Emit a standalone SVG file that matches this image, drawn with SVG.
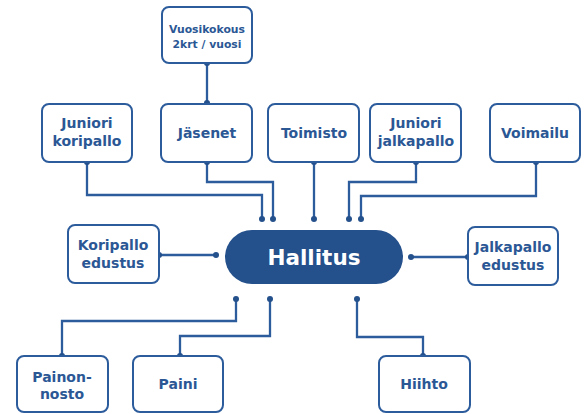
<svg xmlns="http://www.w3.org/2000/svg" width="588" height="414" viewBox="0 0 588 414">
<defs>
<style>
.box{fill:#fff;stroke:#2d5c9c;stroke-width:2}
.t{font-family:"DejaVu Sans",sans-serif;font-weight:bold;font-size:14px;fill:#2b5795;text-anchor:middle}
.s{font-size:10.8px}
.c{fill:none;stroke:#2d5c9c;stroke-width:2.3}
.d{fill:#24508c}
</style>
</defs>
<rect width="588" height="414" fill="#fff"/>
<g id="connectors">
<path class="c" d="M207 63V103"/>
<path class="c" d="M87 162V195H262V219"/>
<path class="c" d="M207 162V182H273V219"/>
<path class="c" d="M314 162V219"/>
<path class="c" d="M416 162V182H349V219"/>
<path class="c" d="M536 162V196H361V219"/>
<path class="c" d="M159 255H216"/>
<path class="c" d="M411 257H468"/>
<path class="c" d="M236 299V321H62V356"/>
<path class="c" d="M270 299V336H180V356"/>
<path class="c" d="M357 299V337H423V356"/>
<g class="d">
<circle cx="207" cy="63" r="3"/><circle cx="207" cy="103" r="3"/>
<circle cx="87" cy="162" r="3"/><circle cx="262" cy="219" r="3"/>
<circle cx="207" cy="162" r="3"/><circle cx="273" cy="219" r="3"/>
<circle cx="314" cy="162" r="3"/><circle cx="314" cy="219" r="3"/>
<circle cx="416" cy="162" r="3"/><circle cx="349" cy="219" r="3"/>
<circle cx="536" cy="162" r="3"/><circle cx="361" cy="219" r="3"/>
<circle cx="159" cy="255" r="3"/><circle cx="216" cy="255" r="3"/>
<circle cx="411" cy="257" r="3"/><circle cx="468" cy="257" r="3"/>
<circle cx="236" cy="299" r="3"/><circle cx="62" cy="356" r="3"/>
<circle cx="270" cy="299" r="3"/><circle cx="180" cy="356" r="3"/>
<circle cx="357" cy="299" r="3"/><circle cx="423" cy="356" r="3"/>
</g>
</g>
<g id="vuosikokous"><rect class="box" x="162" y="7" width="90" height="56" rx="7"/><text class="t s" x="207" y="33">Vuosikokous</text><text class="t s" x="207" y="48">2krt / vuosi</text></g>
<g id="juniori-koripallo"><rect class="box" x="42" y="104" width="90" height="58" rx="7"/><text class="t" x="87" y="128">Juniori</text><text class="t" x="87" y="146">koripallo</text></g>
<g id="jasenet"><rect class="box" x="161" y="104" width="91" height="58" rx="7"/><text class="t" x="207" y="138">Jäsenet</text></g>
<g id="toimisto"><rect class="box" x="268" y="104" width="91" height="58" rx="7"/><text class="t" x="314" y="138">Toimisto</text></g>
<g id="juniori-jalkapallo"><rect class="box" x="370" y="104" width="91" height="58" rx="7"/><text class="t" x="416" y="128">Juniori</text><text class="t" x="416" y="146">jalkapallo</text></g>
<g id="voimailu"><rect class="box" x="490" y="104" width="90" height="58" rx="7"/><text class="t" x="535" y="138">Voimailu</text></g>
<g id="hallitus"><rect x="225" y="230" width="178" height="54" rx="27" fill="#24508c"/><text class="t" x="314" y="265" style="font-size:21.5px;fill:#fff">Hallitus</text></g>
<g id="koripallo-edustus"><rect class="box" x="68" y="225" width="91" height="58" rx="7"/><text class="t" x="113" y="250">Koripallo</text><text class="t" x="113" y="268">edustus</text></g>
<g id="jalkapallo-edustus"><rect class="box" x="468" y="227" width="90" height="58" rx="7"/><text class="t" x="513" y="252">Jalkapallo</text><text class="t" x="513" y="270">edustus</text></g>
<g id="painonnosto"><rect class="box" x="17" y="356" width="91" height="56" rx="7"/><text class="t" x="62" y="382">Painon-</text><text class="t" x="62" y="399">nosto</text></g>
<g id="paini"><rect class="box" x="133" y="356" width="90" height="56" rx="7"/><text class="t" x="178" y="389">Paini</text></g>
<g id="hiihto"><rect class="box" x="379" y="356" width="91" height="56" rx="7"/><text class="t" x="424" y="389">Hiihto</text></g>
</svg>
